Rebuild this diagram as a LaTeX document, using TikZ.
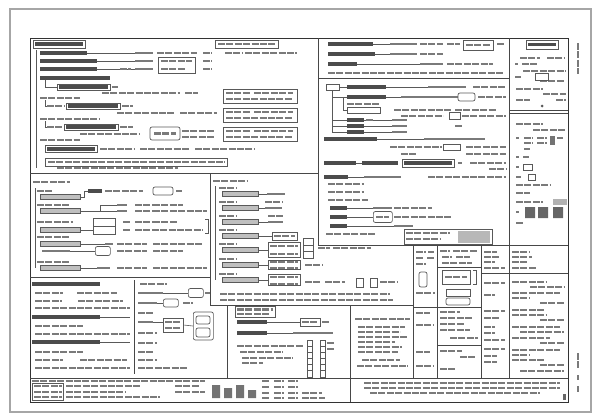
\documentclass[tikz,border=0pt]{standalone}
\usetikzlibrary{positioning}
\tikzset{
  pageb/.style={draw=black!35, line width=1.4pt},
  frame/.style={draw=black!80, line width=0.9pt},
  panel/.style={draw=black!72, line width=0.75pt},
  wtxt/.style={draw=black!52, line width=2.6pt, dash pattern=on 7pt off 1.4pt},
  wkey/.style={draw=black!70, line width=3.2pt},
  keyn/.style={fill=black!70, inner sep=0pt, minimum height=3.2pt, anchor=west},
  txtn/.style={fill=black!52, inner sep=0pt, minimum height=2.6pt, anchor=west},
  lblbox/.style={draw=black!65, fill=black!25, line width=0.55pt, inner sep=0pt,
                 minimum height=5pt, anchor=west},
  sboxn/.style={draw=black!65, line width=0.55pt, inner sep=0pt, anchor=west},
  lboxn/.style={draw=black!65, line width=0.7pt, rounded corners=2pt, inner sep=0pt, anchor=west},
  conn/.style={draw=black!65, line width=0.6pt},
  sbox/.style={draw=black!65, line width=0.55pt},
  lbox/.style={draw=black!65, line width=0.7pt, rounded corners=2pt},
}

\begin{document}
\begin{tikzpicture}[x=1pt, y=-1pt]
  \useasboundingbox (0,0) rectangle (594,415);
  \draw[pageb] (10,9) rectangle (591,412);
  \draw[frame] (30,38) rectangle (568,402);
  \draw[panel] (318,38) -- (318,245);
  \draw[panel] (30,173) -- (318,173) (318,78) -- (509,78);
  \draw[panel] (509,38) -- (509,378) (509,110) -- (568,110) (509,113) -- (568,113);
  \draw[panel] (318,245) -- (568,245) (413,245) -- (413,378);
  \draw[panel] (210,173) -- (210,305) (30,277) -- (210,277) (210,305) -- (413,305);
  \draw[panel] (227,305) -- (227,378) (134,280) -- (134,374) (350,305) -- (350,402);
  \draw[panel] (30,378) -- (568,378);
  \draw[panel] (437,245) -- (437,378) (481,245) -- (481,378) (481,273) -- (568,273);
  \draw[panel] (437,267) -- (481,267) (413,307) -- (481,307) (437,345) -- (481,345);

  % top left
  \draw[sbox] (33,40) rectangle (85,48);
  \draw[wkey] (35,44) -- (83,44);
  \draw[sbox] (215,40) rectangle (278,48);
  \draw[wtxt] (218,44) -- (275,44);
  \draw[conn] (36,50) -- (36,168);
  \foreach \n/\a/\b/\y/\c/\d in {1/40/87/53/135/153, 2/40/97/61/135/153, 3/40/97/69/135/153}{
    \node[keyn, minimum width=\b-\a] (ak\n) at (\a,\y) {};
    \node[txtn, minimum width=\d-\c] (at\n) at (\c,\y) {};
    \draw[conn] (ak\n.east) -- (at\n.west);
  }
  \foreach \a/\b/\y in {157/197/53, 203/212/53, 203/212/61, 203/212/69, 120/131/69,
      112/118/87, 102/180/93, 185/198/93, 40/80/98, 47/64/106, 122/133/106,
      117/175/113, 180/217/113, 40/100/119, 47/62/127, 120/133/127, 80/140/134,
      182/215/131, 182/215/137, 40/80/140, 100/135/149, 140/190/149, 195/254/149,
      48/225/162, 57/178/168, 225/242/53, 245/297/53, 161/192/61, 161/185/69}
    \draw[wtxt] (\a,\y) -- (\b,\y);
  \foreach \a/\b/\y in {40/110/78, 59/108/87, 68/118/106, 66/116/127, 47/95/149}
    \draw[wkey] (\a,\y) -- (\b,\y);
  \draw[sbox] (57,84) rectangle (110,90) (66,103) rectangle (120,109)
    (64,124) rectangle (118,130) (45,145) rectangle (97,152) (45,158) rectangle (227,166)
    (158,57) rectangle (195,73);
  \foreach \y in {89,108,127}{
    \draw[sbox] (223,\y) rectangle (297,\y+14);
    \draw[wtxt] (226,\y+4) -- (250,\y+4) (254,\y+4) -- (293,\y+4) (226,\y+10) -- (293,\y+10);
  }
  \draw[lbox] (150,127) rectangle (180,140);
  \draw[wtxt] (154,133.5) -- (176,133.5);
  \draw[conn] (45,80) |- (57,87) (45,100) |- (47,106) (45,121) |- (47,127);

  % top centre
  \foreach \n/\a/\b/\y/\c/\d in {1/328/373/44/390/417, 2/328/375/54/390/417, 3/328/357/64/420/443}{
    \node[keyn, minimum width=\b-\a] (bk\n) at (\a,\y) {};
    \node[txtn, minimum width=\d-\c] (bt\n) at (\c,\y) {};
    \draw[conn] (bk\n.east) -- (bt\n.west);
  }
  \foreach \a/\b/\y in {420/443/44, 447/460/44, 497/504/44, 420/443/54, 447/493/64,
      328/504/73, 466/490/45}
    \draw[wtxt] (\a,\y) -- (\b,\y);
  \draw[sbox] (463,40) rectangle (493,50);

  % centre right
  \draw[sbox] (326,84) rectangle (339,90);
  \foreach \n/\a/\b/\y/\c/\d in {1/347/386/87/428/466, 2/347/386/97/401/458,
      3/347/364/120/392/407, 4/347/364/126/392/407, 5/347/364/132/392/407,
      6/324/377/139/424/485, 8/324/348/177/364/401, 9/330/347/208/373/392,
      11/330/347/226/394/413}{
    \node[keyn, minimum width=\b-\a] (ck\n) at (\a,\y) {};
    \node[txtn, minimum width=\d-\c] (ct\n) at (\c,\y) {};
    \draw[conn] (ck\n.east) -- (ct\n.west);
  }
  \node[keyn, minimum width=32] (ck7) at (324,163) {};
  \node[keyn, minimum width=36] (ct7) at (362,163) {};
  \draw[conn] (ck7.east) -- (ct7.west);
  \node[keyn, minimum width=17] (ck10) at (330,217) {};
  \node[lboxn, minimum width=19, minimum height=11] (ct10) at (373,217) {};
  \draw[conn] (ck10.east) -- (ct10.west);
  \draw[conn] (339,87) -- (ck1.west);
  \draw[conn] (332,90) |- (ck2.west) (332,97) -- (332,132) (343,97) |- (347,110);
  \foreach \k in {3,4,5} \draw[conn] (ck\k.west) -- ++(-15,0);
  \foreach \a/\b/\y in {473/506/87, 478/506/97, 347/380/104, 394/451/110, 455/496/110,
      401/443/116, 462/506/116, 366/374/120, 455/462/126, 390/442/147, 466/506/147,
      401/417/154, 466/506/154, 458/462/163, 470/506/163, 489/506/169, 428/506/177,
      328/364/184, 328/364/192, 328/368/200, 394/432/208, 394/451/217, 326/375/234,
      406/450/233, 406/440/239, 376/389/217}
    \draw[wtxt] (\a,\y) -- (\b,\y);
  \draw[wkey] (404,163) -- (452,163);
  \draw[lbox] (458,93) rectangle (475,101);
  \draw[sbox] (347,107) rectangle (380,113) (449,112) rectangle (460,119)
    (443,144) rectangle (460,150) (402,159) rectangle (454,167) (404,229) rectangle (492,244);
  \fill[black!28] (458,231) rectangle (490,243);

  % middle left
  \draw[conn] (35,188) -- (35,268);
  \foreach \a/\b/\y in {33/70/182, 37/52/191, 105/143/191, 176/182/191, 37/70/205,
      135/152/205, 153/183/205, 135/152/211, 153/207/211, 37/73/222, 123/130/222,
      135/152/222, 153/177/222, 123/130/230, 135/203/230, 37/70/237, 117/147/244,
      153/203/244, 117/147/251, 153/183/251, 37/70/262, 117/147/268, 153/207/268}
    \draw[wtxt] (\a,\y) -- (\b,\y);
  \foreach \i/\y in {1/197, 2/211, 3/230, 4/244, 6/268}
    \node[lblbox, minimum width=40] (dl\i) at (40,\y) {};
  \node[keyn, minimum width=14] (dt1) at (88,191) {};
  \draw[conn] (dl1.east) -- (84,197) |- (dt1.west);
  \node[txtn, minimum width=10] (dt2) at (117,205) {};
  \node[txtn, minimum width=10] (dt2b) at (117,211) {};
  \draw[conn] (dl2.east) -- (dt2b.west) (100,211) |- (dt2.west);
  \node[sboxn, minimum width=22, minimum height=16] (dt3) at (93,226) {};
  \draw[sbox] (93,226) -- (115,226);
  \draw[conn] (dl3.east) -- (dt3.west |- dl3.east);
  \node[txtn, minimum width=8] (dt4) at (105,244) {};
  \draw[conn] (dl4.east) -- (dt4.west);
  \node[txtn, minimum width=28] (dl5) at (42,251) {};
  \node[lboxn, minimum width=15, minimum height=9] (dt5) at (95,251) {};
  \draw[conn] (dl5.east) -- (dt5.west);
  \node[txtn, minimum width=13] (dt6) at (97,268) {};
  \draw[conn] (dl6.east) -- (dt6.west);
  \draw[lbox] (153,187) rectangle (173,195);
  \draw[conn] (205,219) -| (208,233) -- (205,233);

  % middle
  \draw[wtxt] (213,181) -- (247,181);
  \draw[conn] (215,186) -- (215,280);
  \foreach \i/\y in {1/188, 2/202, 3/216, 4/230, 5/244, 6/259, 7/274}{
    \draw[wtxt] (219,\y) -- (237,\y);
    \node[lblbox, minimum width=36] (el\i) at (222,\y+6) {};
  }
  \node[txtn, minimum width=18] (er1) at (267,194) {};
  \node[txtn, minimum width=17] (er2) at (265,208) {};
  \node[txtn, minimum width=15] (er3) at (268,222) {};
  \node[sboxn, minimum width=25, minimum height=8] (er4) at (272,236) {};
  \node[sboxn, minimum width=32, minimum height=15] (er5) at (268,250) {};
  \node[sboxn, minimum width=32, minimum height=9] (er6) at (268,265) {};
  \node[sboxn, minimum width=32, minimum height=11] (er7) at (268,280) {};
  \foreach \i in {1,...,7} \draw[conn] (el\i.east) -- (er\i.west);
  \foreach \a/\b/\y in {265/282/202, 268/283/216, 274/295/236, 270/298/246, 270/298/254,
      270/298/262, 270/298/268, 270/298/277, 270/298/284, 318/330/248, 333/371/248,
      305/322/265, 305/320/282, 325/345/282, 380/398/282, 220/390/294, 220/393/300}
    \draw[wtxt] (\a,\y) -- (\b,\y);
  \draw[sbox] (303,238) rectangle (313,258) (303,245) -- (313,245) (303,251) -- (313,251);
  \draw[sbox] (356,278) rectangle (363,287) (370,278) rectangle (377,287);

  % bottom left
  \foreach \a/\b/\y in {32/100/284, 32/100/317, 32/100/342}
    \draw[wkey] (\a,\y) -- (\b,\y);
  \draw[conn] (100,317) -- (130,317) (100,342) -- (130,342);
  \foreach \a/\b/\y in {35/63/293, 77/117/293, 35/62/301, 78/123/301, 35/130/308,
      35/83/326, 35/130/334, 35/83/352, 35/63/360, 80/127/360, 35/130/368,
      140/167/284, 205/210/293, 183/193/303, 138/153/313, 165/181/322, 165/181/328,
      138/157/333, 138/157/343, 138/153/352, 138/157/360, 138/187/368}
    \draw[wtxt] (\a,\y) -- (\b,\y);
  \node[txtn, minimum width=25] (gk1) at (138,293) {};
  \node[lboxn, minimum width=15, minimum height=9] (gt1) at (188,293) {};
  \draw[conn] (gk1.east) -- (gt1.west);
  \node[txtn, minimum width=19] (gk2) at (138,303) {};
  \node[lboxn, minimum width=15, minimum height=8] (gt2) at (163,303) {};
  \draw[conn] (gk2.east) -- (gt2.west);
  \node[txtn, minimum width=15] (gk3) at (138,322) {};
  \node[sboxn, minimum width=20, minimum height=14] (gt3) at (163,325) {};
  \draw[conn] (gk3.east) -- (gt3.west |- gk3.east);
  \node[lboxn, minimum width=20, minimum height=28] (gt4) at (193,326) {};
  \draw[conn] (gt3.east) -- (gt4.west);
  \draw[lbox] (196,316) rectangle (210,324) (196,328) rectangle (210,337);

  % bottom centre
  \draw[sbox] (235,306.5) rectangle (275,317);
  \node[keyn, minimum width=30] (hk1) at (237,322) {};
  \node[sboxn, minimum width=20, minimum height=8] (ht1) at (300,322) {};
  \draw[conn] (hk1.east) -- (ht1.west);
  \node[keyn, minimum width=30] (hk2) at (237,333) {};
  \node[txtn, minimum width=40] (ht2) at (293,333) {};
  \draw[conn] (hk2.east) -- (ht2.west);
  \foreach \a/\b/\y in {237/273/309.5, 237/270/314, 322/330/322, 302/318/322,
      237/303/346, 240/283/352, 242/293/358, 242/263/363, 327/335/343, 327/335/349,
      355/410/319, 358/405/327, 358/400/332, 358/408/337, 358/395/342, 358/402/347,
      358/398/352, 362/400/360, 357/408/366}
    \draw[wtxt] (\a,\y) -- (\b,\y);
  \foreach \x in {307,320}{
    \draw[sbox] (\x,340) rectangle (\x+5,377);
    \foreach \yy in {346,352,...,370} \draw[sbox] (\x,\yy) -- (\x+5,\yy);
  }

  % lower right grid
  \foreach \a/\b/\y in {416/426/252, 428/434/252, 416/424/258, 427/434/258, 416/426/264,
      416/435/293, 416/430/313, 416/434/325, 416/430/352, 416/434/366,
      440/450/251, 453/478/251, 442/452/257, 456/470/257, 442/472/263, 445/467/277,
      440/460/312, 440/472/318, 440/465/324, 440/470/330, 450/478/338, 440/462/351,
      460/476/357, 440/456/369,
      484/497/252, 484/500/257, 484/495/262, 484/505/268, 484/505/283, 484/495/295,
      484/505/311, 484/500/318, 484/495/327, 484/495/333, 484/505/340, 484/505/349,
      484/497/356, 484/497/362,
      512/530/252, 512/532/257, 512/527/262, 512/536/268, 512/547/282, 530/564/287,
      512/560/293, 512/530/298, 540/564/303, 512/545/310, 512/547/315, 540/564/320,
      512/560/327, 520/564/332, 512/550/338, 540/564/343, 512/560/350, 512/530/355,
      512/545/360, 540/564/365, 520/564/371}
    \draw[wtxt] (\a,\y) -- (\b,\y);
  \draw[lbox] (419,272) rectangle (427,287) (446,298) rectangle (470,305);
  \draw[sbox] (442,270) rectangle (470,284) (446,289) rectangle (470,296);
  \draw[conn] (473,270) -- (476,270) -- (476,284) -- (473,284);

  % right column
  \draw[sbox] (526,40) rectangle (558,49);
  \draw[wkey] (528,44.5) -- (556,44.5);
  \foreach \a/\b/\y in {520/540/58, 547/565/58, 515/518/64, 522/537/64, 523/566/71,
      515/521/77, 540/565/81, 516/543/89, 543/566/94, 516/530/100, 556/566/100,
      516/543/124, 533/566/130, 516/519/138, 524/533/138, 537/547/138, 557/563/138,
      524/533/143, 537/547/143, 524/530/149, 516/519/157, 523/529/157, 516/519/167,
      516/521/177, 516/550/185, 516/530/193, 516/543/202, 516/519/212, 516/523/223}
    \draw[wtxt] (\a,\y) -- (\b,\y);
  \draw[sbox] (535,73) rectangle (548,80) (523,164) rectangle (532,170) (528,174) rectangle (535,180);
  \fill[black!65] (542,106) circle (1.5);
  \fill[black!55] (550,136) rectangle (555,145);
  \fill[black!30] (553,199) rectangle (567,205);
  \fill[black!60] (525,207) rectangle (535,218) (538,207) rectangle (548,218) (553,207) rectangle (563,218);

  % bottom strip
  \draw[sbox] (32,383) rectangle (63,400);
  \foreach \a/\b/\y in {32/205/381, 34/62/386, 34/62/392, 34/62/397, 66/140/386,
      66/125/392, 66/160/397, 175/200/386, 175/205/392, 302/322/393, 302/325/398,
      364/560/383, 364/560/388, 370/540/393}
    \draw[wtxt] (\a,\y) -- (\b,\y);
  \foreach \y in {381,387,393,398}
    \draw[wtxt] (262,\y) -- (270,\y) (274,\y) -- (284,\y) (288,\y) -- (298,\y);
  \fill[black!55] (212,385) rectangle (220,398) (224,388) rectangle (232,398)
    (236,385) rectangle (244,398) (248,390) rectangle (256,398);
  \fill[black!60] (563,394) rectangle (566,400);
  \draw[wtxt] (578,43) -- (578,74) (578,353) -- (578,368) (578,375) -- (578,380) (578,386) -- (578,392);
\end{tikzpicture}
\end{document}
